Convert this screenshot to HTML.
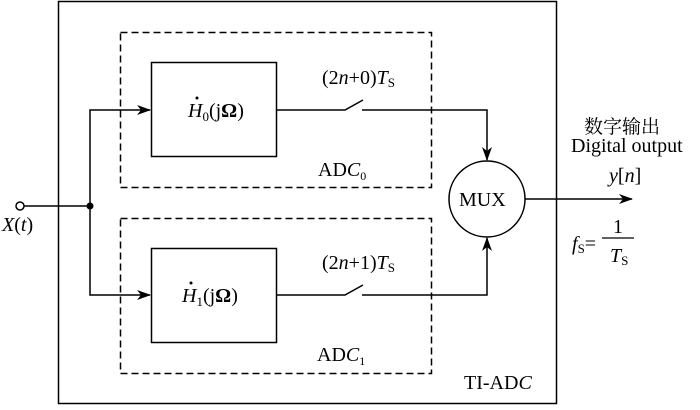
<!DOCTYPE html>
<html><head><meta charset="utf-8"><style>
body{margin:0;background:#fff}
</style></head><body>
<svg width="700" height="405" viewBox="0 0 700 405" xmlns="http://www.w3.org/2000/svg">
<defs><marker id="a" markerWidth="14" markerHeight="10" refX="13" refY="5" orient="auto" markerUnits="userSpaceOnUse"><path d="M0,0 L14,5 L0,10 L4,5 Z" fill="#000"/></marker></defs>
<g fill="none" stroke="#000" stroke-width="1.5">
<rect x="58.5" y="1.5" width="498" height="402"/>
<rect x="120.5" y="32.5" width="311" height="155" stroke-dasharray="7,4"/>
<rect x="120.5" y="218.5" width="311" height="155" stroke-dasharray="7,4"/>
<rect x="151.5" y="62.5" width="125" height="94"/>
<rect x="151.5" y="248.5" width="125" height="94"/>
<line x1="24" y1="206" x2="90" y2="206"/>
<polyline points="90,206 90,110 150,110" marker-end="url(#a)"/>
<polyline points="90,206 90,295 150,295" marker-end="url(#a)"/>
<polyline points="276,110 345,110 363,100"/>
<polyline points="362,110 487,110 487,160" marker-end="url(#a)"/>
<polyline points="276,295 345,295 363,285"/>
<polyline points="362,295 487,295 487,238" marker-end="url(#a)"/>
<circle cx="487" cy="199" r="38"/>
<line x1="525" y1="199" x2="632" y2="199" marker-end="url(#a)"/>
<line x1="602" y1="238" x2="634" y2="238" stroke-width="1.2"/>
</g>
<circle cx="20" cy="206" r="4" fill="#fff" stroke="#000" stroke-width="1.5"/>
<circle cx="90" cy="206" r="3.5" fill="#000"/>
<g font-family="'Liberation Serif','Noto Serif CJK SC',serif" font-size="20" fill="#000">
<text x="188" y="117"><tspan font-style="italic">H</tspan><tspan font-size="13" dy="4">0</tspan><tspan dy="-4">(j</tspan><tspan font-weight="bold">Ω</tspan>)</text>
<text x="182" y="302"><tspan font-style="italic">H</tspan><tspan font-size="13" dy="4">1</tspan><tspan dy="-4">(j</tspan><tspan font-weight="bold">Ω</tspan>)</text>
<circle cx="197" cy="98" r="1.5"/>
<circle cx="191" cy="283" r="1.5"/>
<text x="322" y="84">(2<tspan font-style="italic">n</tspan>+0)<tspan font-style="italic">T</tspan><tspan font-size="13" dy="3">S</tspan></text>
<text x="322" y="269">(2<tspan font-style="italic">n</tspan>+1)<tspan font-style="italic">T</tspan><tspan font-size="13" dy="3">S</tspan></text>
<text x="318" y="176">AD<tspan font-style="italic">C</tspan><tspan font-size="12" dy="4">0</tspan></text>
<text x="317" y="361">AD<tspan font-style="italic">C</tspan><tspan font-size="12" dy="4">1</tspan></text>
<text x="464" y="389">TI-AD<tspan font-style="italic">C</tspan></text>
<text x="459" y="206">MUX</text>
<text x="2" y="231"><tspan font-style="italic">X</tspan>(<tspan font-style="italic">t</tspan>)</text>
<text x="584" y="133" font-family="'Noto Serif CJK SC',serif" font-size="19">数字输出</text>
<text x="571" y="152">Digital output</text>
<text x="609" y="182"><tspan font-style="italic">y</tspan>[<tspan font-style="italic">n</tspan>]</text>
<text x="572" y="250"><tspan font-style="italic">f</tspan><tspan font-size="13" dy="3">S</tspan><tspan dy="-3">=</tspan></text>
<text x="613" y="233">1</text>
<text x="610" y="262"><tspan font-style="italic">T</tspan><tspan font-size="13" dy="3">S</tspan></text>
</g>
</svg>
</body></html>
